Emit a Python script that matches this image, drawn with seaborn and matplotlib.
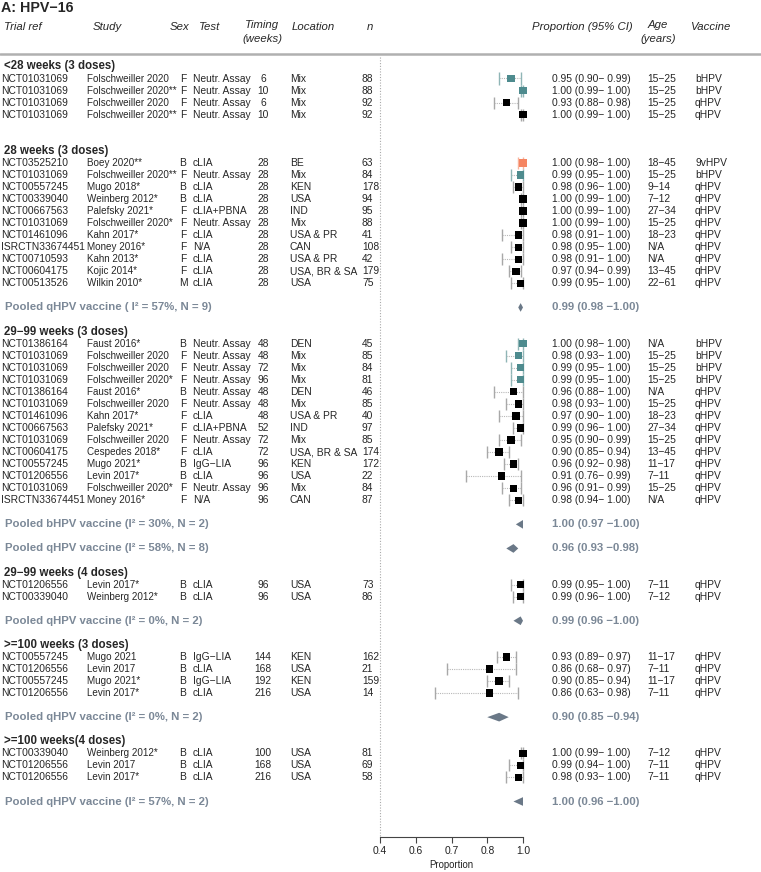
import numpy as np
import pandas as pd
import matplotlib
matplotlib.use("Agg")
import matplotlib.pyplot as plt
import matplotlib.transforms as mtransforms
import seaborn as sns

# --- Datos ---
groups = ["<28 weeks (3 doses)", "28 weeks (3 doses)", "29\u221299 weeks (3 doses)",
          "29\u221299 weeks (4 doses)", ">=100 weeks (3 doses)", ">=100 weeks(4 doses)"]
group_sizes = [4, 11, 14, 2, 4, 3]

trial = ["NCT01031069", "NCT01031069", "NCT01031069", "NCT01031069",
         "NCT03525210", "NCT01031069", "NCT00557245", "NCT00339040", "NCT00667563", "NCT01031069",
         "NCT01461096", "ISRCTN33674451", "NCT00710593", "NCT00604175", "NCT00513526",
         "NCT01386164", "NCT01031069", "NCT01031069", "NCT01031069", "NCT01386164", "NCT01031069",
         "NCT01461096", "NCT00667563", "NCT01031069", "NCT00604175", "NCT00557245", "NCT01206556",
         "NCT01031069", "ISRCTN33674451",
         "NCT01206556", "NCT00339040",
         "NCT00557245", "NCT01206556", "NCT00557245", "NCT01206556",
         "NCT00339040", "NCT01206556", "NCT01206556"]
study = ["Folschweiller 2020", "Folschweiller 2020**", "Folschweiller 2020", "Folschweiller 2020**",
         "Boey 2020**", "Folschweiller 2020**", "Mugo 2018*", "Weinberg 2012*", "Palefsky 2021*",
         "Folschweiller 2020*", "Kahn 2017*", "Money 2016*", "Kahn 2013*", "Kojic 2014*", "Wilkin 2010*",
         "Faust 2016*", "Folschweiller 2020", "Folschweiller 2020", "Folschweiller 2020*", "Faust 2016*",
         "Folschweiller 2020", "Kahn 2017*", "Palefsky 2021*", "Folschweiller 2020", "Cespedes 2018*",
         "Mugo 2021*", "Levin 2017*", "Folschweiller 2020*", "Money 2016*",
         "Levin 2017*", "Weinberg 2012*",
         "Mugo 2021", "Levin 2017", "Mugo 2021*", "Levin 2017*",
         "Weinberg 2012*", "Levin 2017", "Levin 2017*"]
sex = ["F", "F", "F", "F",
       "B", "F", "B", "B", "F", "F", "F", "F", "F", "F", "M",
       "B", "F", "F", "F", "B", "F", "F", "F", "F", "F", "B", "B", "F", "F",
       "B", "B",
       "B", "B", "B", "B",
       "B", "B", "B"]
test = ["Neutr. Assay"] * 4 + \
       ["cLIA", "Neutr. Assay", "cLIA", "cLIA", "cLIA+PBNA", "Neutr. Assay", "cLIA", "N/A", "cLIA",
        "cLIA", "cLIA"] + \
       ["Neutr. Assay"] * 6 + ["cLIA", "cLIA+PBNA", "Neutr. Assay", "cLIA", "IgG\u2212LIA", "cLIA",
                               "Neutr. Assay", "N/A"] + \
       ["cLIA", "cLIA"] + \
       ["IgG\u2212LIA", "cLIA", "IgG\u2212LIA", "cLIA"] + \
       ["cLIA", "cLIA", "cLIA"]
timing = ["6", "10", "6", "10"] + ["28"] * 11 + \
         ["48", "48", "72", "96", "48", "48", "48", "52", "72", "72", "96", "96", "96", "96"] + \
         ["96", "96"] + ["144", "168", "192", "216"] + ["100", "168", "216"]
location = ["Mix"] * 4 + \
           ["BE", "Mix", "KEN", "USA", "IND", "Mix", "USA & PR", "CAN", "USA & PR", "USA, BR & SA", "USA"] + \
           ["DEN", "Mix", "Mix", "Mix", "DEN", "Mix", "USA & PR", "IND", "Mix", "USA, BR & SA", "KEN",
            "USA", "Mix", "CAN"] + \
           ["USA", "USA"] + ["KEN", "USA", "KEN", "USA"] + ["USA", "USA", "USA"]
n = [88, 88, 92, 92,
     63, 84, 178, 94, 95, 88, 41, 108, 42, 179, 75,
     45, 85, 84, 81, 46, 85, 40, 97, 85, 174, 172, 22, 84, 87,
     73, 86,
     162, 21, 159, 14,
     81, 69, 58]
est = [0.95, 1.00, 0.93, 1.00,
       1.00, 0.99, 0.98, 1.00, 1.00, 1.00, 0.98, 0.98, 0.98, 0.97, 0.99,
       1.00, 0.98, 0.99, 0.99, 0.96, 0.98, 0.97, 0.99, 0.95, 0.90, 0.96, 0.91, 0.96, 0.98,
       0.99, 0.99,
       0.93, 0.86, 0.90, 0.86,
       1.00, 0.99, 0.98]
lower = [0.90, 0.99, 0.88, 0.99,
         0.98, 0.95, 0.96, 0.99, 0.99, 0.99, 0.91, 0.95, 0.91, 0.94, 0.95,
         0.98, 0.93, 0.95, 0.95, 0.88, 0.93, 0.90, 0.96, 0.90, 0.85, 0.92, 0.76, 0.91, 0.94,
         0.95, 0.96,
         0.89, 0.68, 0.85, 0.63,
         0.99, 0.94, 0.93]
upper = [0.99, 1.00, 0.98, 1.00,
         1.00, 1.00, 1.00, 1.00, 1.00, 1.00, 1.00, 1.00, 1.00, 0.99, 1.00,
         1.00, 1.00, 1.00, 1.00, 1.00, 1.00, 1.00, 1.00, 0.99, 0.94, 0.98, 0.99, 0.99, 1.00,
         1.00, 1.00,
         0.97, 0.97, 0.94, 0.98,
         1.00, 1.00, 1.00]
age = ["15\u221225"] * 4 + \
      ["18\u221245", "15\u221225", "9\u221214", "7\u221212", "27\u221234", "15\u221225", "18\u221223", "N/A",
       "N/A", "13\u221245", "22\u221261"] + \
      ["N/A", "15\u221225", "15\u221225", "15\u221225", "N/A", "15\u221225", "18\u221223", "27\u221234",
       "15\u221225", "13\u221245", "11\u221217", "7\u221211", "15\u221225", "N/A"] + \
      ["7\u221211", "7\u221212"] + ["11\u221217", "7\u221211", "11\u221217", "7\u221211"] + \
      ["7\u221212", "7\u221211", "7\u221211"]
vaccine = ["bHPV", "bHPV", "qHPV", "qHPV",
           "9vHPV", "bHPV"] + ["qHPV"] * 9 + \
          ["bHPV"] * 4 + ["qHPV"] * 10 + ["qHPV"] * 2 + ["qHPV"] * 4 + ["qHPV"] * 3

pooled_group = [1, 2, 2, 3, 4, 5]
pooled_label = ["Pooled qHPV vaccine ( I\u00b2 = 57%, N = 9)",
                "Pooled bHPV vaccine (I\u00b2 = 30%, N = 2)",
                "Pooled qHPV vaccine (I\u00b2 = 58%, N = 8)",
                "Pooled qHPV vaccine (I\u00b2 = 0%, N = 2)",
                "Pooled qHPV vaccine (I\u00b2 = 0%, N = 2)",
                "Pooled qHPV vaccine (I\u00b2 = 57%, N = 2)"]
pooled_est = [0.99, 1.00, 0.96, 0.99, 0.90, 1.00]
pooled_lower = [0.98, 0.97, 0.93, 0.96, 0.85, 0.96]
pooled_upper = [1.00, 1.00, 0.98, 1.00, 0.94, 1.00]

# --- Colores ---
vac_colors = {"bHPV": "#4e8b8e", "qHPV": "#000000", "9vHPV": "#f58562"}
cap_colors = {"bHPV": "#8fb5b6", "qHPV": "#a8a8a8", "9vHPV": "#f8b39c"}
pool_fill = "#6a7887"
pool_text = "#7b8897"

# --- Posiciones de filas ---
row_pos, header_pos, pooled_pos = [], [], []
cursor = -1
for gi, size in enumerate(group_sizes):
    header_pos.append(cursor)
    for j in range(size):
        cursor += 1
        row_pos.append(cursor)
    npool = 0
    for pg in pooled_group:
        if pg == gi:
            cursor += 2
            pooled_pos.append(cursor)
            npool += 1
    cursor += 2 if npool else 3

df = pd.DataFrame({"row": row_pos, "est": est, "lower": lower, "upper": upper, "vaccine": vaccine})

# --- Figura ---
sns.set_theme(style="white")
plt.rcParams["font.family"] = ["Liberation Sans", "DejaVu Sans"]

W, H = 761, 872
fig = plt.figure(figsize=(W / 100, H / 100), dpi=100)
x0_px, x1_px = 380.0, 523.0
ppu = (x1_px - x0_px) / 0.6
xl, xr = 0.38, 1.02
left_px = x0_px - (0.4 - xl) * ppu
right_px = x0_px + (xr - 0.4) * ppu
ax = fig.add_axes([left_px / W, 0, (right_px - left_px) / W, 1])
row0_px, row_h = 78.5, 12.05
ax.set_xlim(xl, xr)
ax.set_ylim((H - row0_px) / row_h, -row0_px / row_h)
ax.patch.set_alpha(0)
for s in ["top", "left", "right"]:
    ax.spines[s].set_visible(False)
axis_row = (836.7 - row0_px) / row_h
ax.spines["bottom"].set_position(("data", axis_row))
ax.spines["bottom"].set_bounds(0.4, 1.0)
ax.spines["bottom"].set_color("#444444")
ax.spines["bottom"].set_linewidth(0.8)
ax.set_yticks([])
ax.set_xticks([0.4, 0.55, 0.7, 0.85, 1.0])
ax.set_xticklabels(["0.4", "0.6", "0.7", "0.8", "1.0"])
ax.tick_params(axis="x", bottom=True, length=4, width=0.8, color="#444444",
               labelsize=7.4, pad=2.5, labelcolor="#222222")

# linea de referencia punteada
ax.vlines(0.4, -1.8, axis_row, colors="#aaaaaa", linestyles=(0, (1, 1.5)), lw=0.8)

# intervalos de confianza
for r, lo, hi, v in zip(row_pos, lower, upper, vaccine):
    ax.hlines(r, lo, hi, colors="#b8b8b8", linestyles=(0, (1, 1)), lw=0.8)
    ax.vlines([lo, hi], r - 0.5, r + 0.5, colors=cap_colors[v], lw=1.0)

sns.scatterplot(data=df, x="est", y="row", hue="vaccine", palette=vac_colors, marker="s",
                s=28, linewidth=0, legend=False, ax=ax, zorder=3, clip_on=False)
ax.set_xlabel("Proportion", fontsize=6.9, labelpad=3, color="#222222")
ax.set_ylabel("")

# diamantes combinados
for r, e, lo, hi in zip(pooled_pos, pooled_est, pooled_lower, pooled_upper):
    ax.fill([lo, e, hi, e], [r, r - 0.36, r, r + 0.36], color=pool_fill, lw=0, zorder=3)

# --- Textos ---
tr = mtransforms.blended_transform_factory(fig.transFigure, ax.transData)


def put(xpx, r, s, **kw):
    kw.setdefault("fontsize", 7.4)
    kw.setdefault("va", "center")
    ax.text(xpx / W, r, s, transform=tr, clip_on=False, **kw)


fig.text(1 / W, 1 - 7.5 / H, "A: HPV\u221216", fontsize=10.3, fontweight="bold", va="center", ha="left")

hdr_r = (26.7 - row0_px) / row_h
hdr_r1 = (24.5 - row0_px) / row_h
hdr_r2 = (38.5 - row0_px) / row_h
hk = dict(fontsize=8.2, style="italic")
put(4, hdr_r, "Trial ref", **hk)
put(93, hdr_r, "Study", **hk)
put(170, hdr_r, "Sex", **hk)
put(199, hdr_r, "Test", **hk)
put(262, hdr_r1, "Timing", ha="center", **hk)
put(262, hdr_r2, "(weeks)", ha="center", **hk)
put(292, hdr_r, "Location", **hk)
put(367, hdr_r, "n", **hk)
put(532, hdr_r, "Proportion (95% CI)", **hk)
put(658, hdr_r1, "Age", ha="center", **hk)
put(658, hdr_r2, "(years)", ha="center", **hk)
put(690, hdr_r, "Vaccine", **hk)

line_r = (54.3 - row0_px) / row_h
ax.plot([0, 1], [line_r, line_r], transform=tr, color="#b0b0b0", lw=1.8, clip_on=False)

for r, g in zip(header_pos, groups):
    put(4, r, g, fontsize=8.3, fontweight="bold")

for i, r in enumerate(row_pos):
    put(1, r, trial[i])
    put(87, r, study[i], fontsize=7.1)
    put(183, r, sex[i], ha="center")
    put(193, r, test[i])
    put(263, r, timing[i], ha="center")
    put(290, r, location[i])
    put(362, r, str(n[i]))
    put(552, r, f"{est[i]:.2f} ({lower[i]:.2f}\u2212 {upper[i]:.2f})")
    put(647, r, age[i])
    put(695, r, vaccine[i])

for r, lab, e, lo, hi in zip(pooled_pos, pooled_label, pooled_est, pooled_lower, pooled_upper):
    put(5, r, lab, fontsize=8.2, fontweight="bold", color=pool_text)
    put(552, r, f"{e:.2f} ({lo:.2f} \u2212{hi:.2f})",
        fontsize=8.2, fontweight="bold", color=pool_text)

fig.savefig("out.png", dpi=100)
plt.close(fig)
